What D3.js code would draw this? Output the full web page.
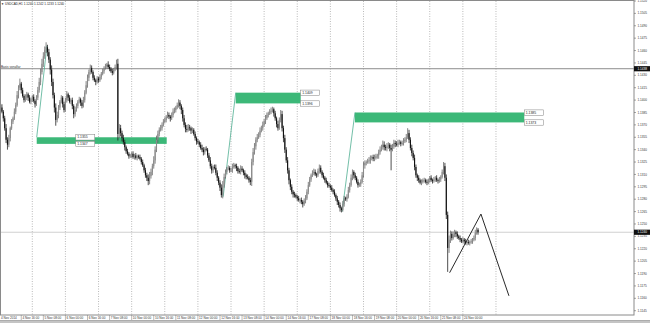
<!DOCTYPE html>
<html>
<head>
<meta charset="utf-8">
<script src="https://cdn.jsdelivr.net/npm/d3@7"></script>
<style>
  body { margin: 0; background: #fff; }
  svg { display: block; font-family: "Liberation Sans", Arial, sans-serif; }
</style>
</head>
<body>
<div id="chart"></div>
<script>
// USDCAD H1, 4 Nov 2014 - 24 Nov 2014
const tradingDays = [4, 5, 6, 7, 10, 11, 12, 13, 14, 17, 18, 19, 20, 21, 24];
const firstOpen = 1.1397;

const closes = [
  // 4 Nov
  1.1394,1.1391,1.1386,1.1378,1.1366,1.1352,1.1346,1.1354,1.1366,1.1374,1.1378,1.1386,1.1394,1.1406,1.1415,1.1420,1.1412,1.1405,1.1400,1.1403,1.1407,1.1403,1.1398,1.1401,
  // 5 Nov
  1.1404,1.1399,1.1395,1.1403,1.1412,1.1422,1.1434,1.1444,1.1453,1.1461,1.1464,1.1458,1.1449,1.1437,1.1422,1.1406,1.1391,1.1376,1.1382,1.1391,1.1398,1.1403,1.1395,1.1388,
  // 6 Nov
  1.1400,1.1407,1.1403,1.1398,1.1400,1.1393,1.1383,1.1388,1.1393,1.1398,1.1401,1.1397,1.1393,1.1400,1.1409,1.1418,1.1427,1.1434,1.1439,1.1434,1.1427,1.1424,1.1422,1.1426,
  // 7 Nov
  1.1424,1.1428,1.1432,1.1435,1.1439,1.1441,1.1443,1.1440,1.1438,1.1435,1.1433,1.1437,1.1440,1.1444,1.1359,1.1366,1.1360,1.1354,1.1349,1.1343,1.1338,1.1335,1.1332,1.1333,
  // 10 Nov
  1.1335,1.1331,1.1333,1.1330,1.1332,1.1331,1.1329,1.1325,1.1321,1.1315,1.1309,1.1306,1.1302,1.1308,1.1313,1.1320,1.1327,1.1340,1.1352,1.1359,1.1364,1.1366,1.1370,1.1374,
  // 11 Nov
  1.1376,1.1380,1.1382,1.1380,1.1378,1.1382,1.1386,1.1388,1.1391,1.1394,1.1397,1.1393,1.1388,1.1378,1.1370,1.1365,1.1364,1.1367,1.1366,1.1363,1.1364,1.1359,1.1354,1.1350,
  // 12 Nov
  1.1349,1.1346,1.1342,1.1340,1.1337,1.1341,1.1340,1.1333,1.1327,1.1320,1.1315,1.1319,1.1318,1.1312,1.1306,1.1300,1.1294,1.1285,1.1297,1.1307,1.1313,1.1317,1.1318,1.1315,
  // 13 Nov
  1.1315,1.1319,1.1321,1.1320,1.1318,1.1314,1.1313,1.1317,1.1315,1.1312,1.1309,1.1307,1.1306,1.1303,1.1301,1.1325,1.1337,1.1344,1.1352,1.1355,1.1358,1.1363,1.1366,1.1370,
  // 14 Nov
  1.1374,1.1378,1.1382,1.1384,1.1386,1.1387,1.1389,1.1384,1.1378,1.1371,1.1366,1.1376,1.1383,1.1366,1.1354,1.1340,1.1327,1.1315,1.1303,1.1295,1.1289,1.1286,1.1285,1.1283,
  // 17 Nov
  1.1281,1.1279,1.1279,1.1277,1.1274,1.1278,1.1281,1.1289,1.1297,1.1304,1.1309,1.1312,1.1313,1.1310,1.1309,1.1314,1.1318,1.1313,1.1309,1.1306,1.1303,1.1300,1.1297,1.1296,
  // 18 Nov
  1.1294,1.1291,1.1289,1.1285,1.1281,1.1277,1.1273,1.1269,1.1267,1.1274,1.1281,1.1280,1.1283,1.1291,1.1297,1.1306,1.1313,1.1309,1.1306,1.1301,1.1297,1.1298,1.1301,1.1309,
  // 19 Nov
  1.1321,1.1324,1.1325,1.1326,1.1327,1.1330,1.1331,1.1329,1.1330,1.1332,1.1333,1.1337,1.1340,1.1343,1.1346,1.1343,1.1342,1.1344,1.1346,1.1342,1.1340,1.1344,1.1348,1.1347,
  // 20 Nov
  1.1346,1.1348,1.1349,1.1347,1.1348,1.1350,1.1352,1.1355,1.1360,1.1352,1.1342,1.1336,1.1330,1.1319,1.1309,1.1306,1.1303,1.1300,1.1301,1.1303,1.1303,1.1301,1.1300,1.1303,
  // 21 Nov
  1.1306,1.1303,1.1302,1.1304,1.1306,1.1303,1.1302,1.1304,1.1307,1.1313,1.1320,1.1306,1.1261,1.1221,1.1231,1.1238,1.1233,1.1237,1.1240,1.1238,1.1235,1.1233,1.1231,1.1229,
  // 24 Nov
  1.1231,1.1229,1.1227,1.1228,1.1227,1.1228,1.1229,1.1231,1.1233,1.1239,1.1243,1.1240
];

// upper / lower wick length in pips
const wickUp = [
  3,2,4,2,3,5,3,4,2,3,2,4,3,5,3,6,2,3,2,4,3,2,3,2,
  2,3,2,3,4,5,4,6,5,4,6,3,4,3,5,4,3,5,4,3,2,3,2,3,
  3,4,2,3,2,3,2,4,3,2,3,2,3,4,3,5,4,3,4,3,2,3,2,3,
  2,3,2,3,2,3,2,4,3,2,3,2,3,5,6,5,4,3,4,3,2,3,2,2,
  2,3,2,3,2,2,3,2,3,2,3,3,4,5,4,3,5,4,5,4,3,4,3,3,
  3,2,4,3,2,3,4,3,2,3,4,3,2,3,4,3,5,4,3,2,3,2,3,2,
  3,2,3,4,3,2,3,2,3,4,3,2,3,4,3,2,3,4,5,4,3,2,3,2,
  3,4,3,2,3,2,3,4,3,2,3,2,3,2,3,4,5,4,3,4,3,4,3,4,
  3,4,3,2,3,4,3,2,3,2,4,3,5,4,3,4,3,4,3,2,3,2,3,2,
  2,3,2,3,2,3,4,3,4,3,2,3,4,3,2,3,4,3,2,3,2,3,2,3,
  2,3,2,3,2,3,2,3,2,4,3,2,3,4,3,4,3,2,3,2,3,2,3,4,
  4,3,2,3,4,3,2,3,4,3,2,3,4,3,5,4,3,4,3,2,4,3,4,3,
  3,4,3,2,3,4,3,4,6,4,3,4,3,4,3,2,3,2,3,2,3,2,3,2,
  2,3,2,3,2,3,2,3,2,3,5,4,4,4,5,4,3,4,3,2,3,2,3,2,
  3,2,3,2,3,2,3,2,3,4,3,2
];
const wickDn = [
  2,3,2,4,3,4,6,3,4,2,3,2,3,2,4,3,4,2,3,2,3,4,2,3,
  3,2,4,2,3,3,4,3,4,3,4,5,4,6,5,4,6,7,3,4,3,2,4,3,
  2,3,4,2,3,4,5,3,2,3,2,4,3,2,3,2,3,4,3,2,3,2,4,2,
  3,2,3,2,3,2,3,2,3,2,3,2,2,3,8,5,4,4,3,4,3,2,3,2,
  3,2,3,2,3,2,2,3,2,3,3,4,5,4,3,4,3,4,3,4,3,2,3,2,
  2,3,2,3,4,2,3,2,3,2,3,4,5,4,3,4,3,2,3,4,3,2,3,4,
  2,3,2,3,4,3,2,3,2,3,4,3,2,3,4,3,4,3,4,3,2,3,2,3,
  2,3,2,3,4,3,2,3,2,3,4,3,2,3,4,5,4,3,4,3,2,3,2,3,
  2,3,2,3,2,3,2,4,3,4,3,2,3,4,5,4,3,4,5,4,3,4,3,2,
  3,2,4,3,4,2,3,2,3,2,3,2,3,2,3,2,3,2,3,2,3,2,3,2,
  3,2,3,2,3,4,3,4,3,2,3,2,3,2,3,2,3,4,3,2,3,2,3,2,
  3,4,3,2,3,4,3,3,3,2,3,4,3,2,3,4,3,4,3,4,25,2,3,4,
  2,3,2,3,2,3,2,3,2,4,3,4,3,4,3,4,3,2,3,2,3,2,3,2,
  3,2,3,2,3,2,3,2,3,2,3,4,5,29,6,4,3,2,3,4,3,2,3,2,
  2,3,2,3,2,3,2,3,2,3,2,3
];

const priceTicks = [1.1520,1.1505,1.1490,1.1475,1.1460,1.1445,1.1430,1.1415,1.1400,1.1385,1.1370,1.1355,1.1340,
  1.1325,1.1310,1.1295,1.1280,1.1265,1.1250,1.1235,1.1220,1.1205,1.1190,1.1175,1.1160,1.1145];

// supply / demand zones
const zoneStart  = [27.2, 171.4, 257.8];
const zoneEnd    = [121.4, 218.5, 380.5];
const zoneTop    = [1.1355, 1.1409, 1.1385];
const zoneBottom = [1.1347, 1.1396, 1.1373];
const zoneLabelBar = [55.5, 218.5, 380.5];
const anchorBar   = [34.6, 162.3, 248.5];
const anchorPrice = [1.1466, 1.1283, 1.1265];

// hand drawn pattern
const patternBars   = [326.4, 349.1, 369.4];
const patternPrices = [1.1191, 1.1262, 1.1163];

const basisPrice = 1.1438;
const bidPrice = 1.1240;
const title = "\u25BC USDCAD,H1  1.1240 1.1242 1.1233 1.1240";

// ---------------------------------------------------------------
const W = 650, H = 323;
const plotR = 634, plotT = 1, plotB = 315;
const fs = 3.1;

const x = d3.scaleLinear().domain([0, 360]).range([-0.82, 495.98]);
const y = d3.scaleLinear().domain([1.1145, 1.1520]).range([310.7, 1]);

const svg = d3.select("#chart").append("svg")
  .attr("width", W).attr("height", H)
  .attr("viewBox", [0, 0, W, H]);

svg.append("defs").append("clipPath").attr("id", "plot")
  .append("rect").attr("x", 0).attr("y", plotT).attr("width", plotR).attr("height", plotB - plotT);

const plot = svg.append("g").attr("clip-path", "url(#plot)");

// vertical grid at every day start
const gridBars = d3.range(1, tradingDays.length + 1).map(d => d * 24);
plot.selectAll("line.grid").data(gridBars).enter().append("line")
  .attr("x1", d => x(d)).attr("x2", d => x(d))
  .attr("y1", plotT).attr("y2", plotB)
  .attr("stroke", "#a8a8a8").attr("stroke-width", 0.8)
  .attr("stroke-dasharray", "1,1.5");

// horizontal lines
plot.append("line").attr("x1", 0).attr("x2", plotR)
  .attr("y1", y(bidPrice)).attr("y2", y(bidPrice))
  .attr("stroke", "#d0d0d0").attr("stroke-width", 1);
plot.append("line").attr("x1", 0).attr("x2", plotR)
  .attr("y1", y(basisPrice)).attr("y2", y(basisPrice))
  .attr("stroke", "#8c8c8c").attr("stroke-width", 1);
plot.append("text").attr("x", 1).attr("y", y(basisPrice) - 1.2)
  .attr("font-size", fs).attr("fill", "#333").text("Basis vonalfar");

// zones
const zones = d3.range(zoneStart.length);
plot.selectAll("rect.zone").data(zones).enter().append("rect")
  .attr("x", i => x(zoneStart[i]))
  .attr("width", i => x(zoneEnd[i]) - x(zoneStart[i]))
  .attr("y", i => y(zoneTop[i]))
  .attr("height", i => y(zoneBottom[i]) - y(zoneTop[i]))
  .attr("fill", "#3cb878");

plot.selectAll("line.anchor").data(zones).enter().append("line")
  .attr("x1", i => x(zoneStart[i])).attr("y1", i => y(zoneTop[i]))
  .attr("x2", i => x(anchorBar[i])).attr("y2", i => y(anchorPrice[i]))
  .attr("stroke", "#4fae92").attr("stroke-width", 0.8);

// candles
const bars = closes.map((c, i) => {
  const o = i === 0 ? firstOpen : closes[i - 1];
  return {
    i, o, c,
    h: Math.max(o, c) + wickUp[i] * 0.0001,
    l: Math.min(o, c) - wickDn[i] * 0.0001
  };
});

const candle = plot.selectAll("g.candle").data(bars).enter().append("g");
candle.append("line")
  .attr("x1", d => x(d.i)).attr("x2", d => x(d.i))
  .attr("y1", d => y(d.h)).attr("y2", d => y(d.l))
  .attr("stroke", d => d.c < d.o ? "#222" : "#666")
  .attr("stroke-width", 0.8);
candle.append("rect")
  .attr("x", d => x(d.i) - 0.55).attr("width", 1.1)
  .attr("y", d => y(Math.max(d.o, d.c)))
  .attr("height", d => Math.max(0.5, Math.abs(y(d.o) - y(d.c))))
  .attr("fill", d => d.c < d.o ? "#111" : "#8a8a8a");

// pattern lines
const line = d3.line().x(d => x(d[0])).y(d => y(d[1]));
plot.append("path")
  .attr("d", line(patternBars.map((b, i) => [b, patternPrices[i]])))
  .attr("fill", "none").attr("stroke", "#111").attr("stroke-width", 0.9);

// zone price labels
const zoneLabels = [];
zones.forEach(i => {
  zoneLabels.push({ bar: zoneLabelBar[i], p: zoneTop[i] });
  zoneLabels.push({ bar: zoneLabelBar[i], p: zoneBottom[i] });
});
const zl = svg.selectAll("g.zl").data(zoneLabels).enter().append("g")
  .attr("transform", d => `translate(${x(d.bar)},${y(d.p)})`);
zl.append("rect").attr("x", 0).attr("y", -2.6).attr("width", 19).attr("height", 5.4)
  .attr("fill", "#fff").attr("stroke", "#808080").attr("stroke-width", 0.5);
zl.append("text").attr("x", 1.5).attr("y", 1.2)
  .attr("font-size", fs + 0.3).attr("fill", "#222")
  .text(d => d.p.toFixed(4));

// frame
svg.append("rect").attr("x", 0.5).attr("y", plotT - 0.5)
  .attr("width", plotR - 0.5).attr("height", plotB - plotT + 0.5)
  .attr("fill", "none").attr("stroke", "#8a8a8a").attr("stroke-width", 1);

// title
svg.append("text").attr("x", 1).attr("y", 4.5)
  .attr("font-size", fs).attr("fill", "#222").text(title);

// price axis
const yAxis = svg.append("g");
priceTicks.forEach(p => {
  yAxis.append("line").attr("x1", plotR).attr("x2", plotR + 2)
    .attr("y1", y(p)).attr("y2", y(p)).attr("stroke", "#666").attr("stroke-width", 0.6);
  yAxis.append("text").attr("x", plotR + 3.5).attr("y", y(p) + 1.1)
    .attr("font-size", fs).attr("fill", "#333").text(p.toFixed(4));
});
[basisPrice, bidPrice].forEach(p => {
  yAxis.append("rect").attr("x", plotR).attr("y", y(p) - 2.6)
    .attr("width", W - plotR).attr("height", 5.2).attr("fill", "#111");
  yAxis.append("text").attr("x", plotR + 3.5).attr("y", y(p) + 1.1)
    .attr("font-size", fs).attr("fill", "#fff").text(p.toFixed(4));
});

// time axis
const months = "Nov";
const labelBars = d3.range(0, closes.length, 16);
const fmt = b => {
  const day = tradingDays[Math.floor(b / 24)];
  const hr = b % 24;
  if (b === 0) return `${day} ${months} 2014`;
  return `${day} ${months} ${String(hr).padStart(2, "0")}:00`;
};
const xAxis = svg.append("g");
labelBars.forEach(b => {
  if (b > 0) {
    xAxis.append("line").attr("x1", x(b)).attr("x2", x(b))
      .attr("y1", plotB).attr("y2", plotB + 5).attr("stroke", "#777").attr("stroke-width", 0.5);
  }
  xAxis.append("text").attr("x", Math.max(1, x(b) + 1.2)).attr("y", plotB + 4.2)
    .attr("font-size", fs).attr("fill", "#333").text(fmt(b));
});

svg.append("rect").attr("x", 0).attr("y", 320.5).attr("width", W).attr("height", 2.5)
  .attr("fill", "#c4c4c4");
svg.append("line").attr("x1", 0).attr("x2", W).attr("y1", 320.5).attr("y2", 320.5)
  .attr("stroke", "#888").attr("stroke-width", 0.6);
</script>
</body>
</html>
